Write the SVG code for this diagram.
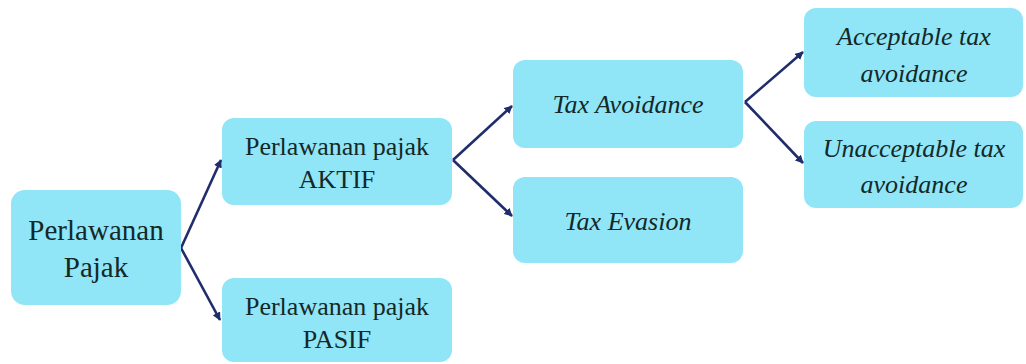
<svg xmlns="http://www.w3.org/2000/svg" width="1026" height="364" viewBox="0 0 1026 364">
<style>
.box{fill:#90E5F6;}
text{font-family:'Liberation Serif','Times New Roman',serif;fill:#142828;text-anchor:middle;font-size:26px;}
.big{font-size:29px;}
.i{font-style:italic;}
.c{stroke:#1f2d6b;stroke-width:2.6;fill:none;marker-end:url(#ah);}
</style>
<defs>
<marker id="ah" viewBox="0 0 10 10" refX="9" refY="5" markerWidth="3.2" markerHeight="3.2" orient="auto" markerUnits="strokeWidth">
<path d="M0,0 L10,5 L0,10 z" fill="#1f2d6b"/>
</marker>
</defs>
<g id="connectors">
<path class="c" d="M181,248 L221,160"/>
<path class="c" d="M181,248 L220,320"/>
<path class="c" d="M453,160 L512,106"/>
<path class="c" d="M453,160 L512,216"/>
<path class="c" d="M745,102 L803,52"/>
<path class="c" d="M745,102 L803,163"/>
</g>
<g id="n-perlawanan">
<rect class="box" x="11" y="190" width="170" height="115" rx="14"/>
<text class="big" x="96" y="240">Perlawanan</text>
<text class="big" x="96" y="277">Pajak</text>
</g>
<g id="n-aktif">
<rect class="box" x="222" y="118" width="230" height="87" rx="12"/>
<text x="337" y="155">Perlawanan pajak</text>
<text x="337" y="188">AKTIF</text>
</g>
<g id="n-pasif">
<rect class="box" x="222" y="278" width="230" height="84" rx="12"/>
<text x="337" y="315">Perlawanan pajak</text>
<text x="337" y="348">PASIF</text>
</g>
<g id="n-avoidance">
<rect class="box" x="513" y="60" width="230" height="88" rx="12"/>
<text class="i" x="628" y="113">Tax Avoidance</text>
</g>
<g id="n-evasion">
<rect class="box" x="513" y="177" width="230" height="86" rx="12"/>
<text class="i" x="628" y="230">Tax Evasion</text>
</g>
<g id="n-acceptable">
<rect class="box" x="804" y="8" width="219" height="89" rx="12"/>
<text class="i" x="914" y="45">Acceptable tax</text>
<text class="i" x="914" y="82">avoidance</text>
</g>
<g id="n-unacceptable">
<rect class="box" x="804" y="121" width="219" height="87" rx="12"/>
<text class="i" x="914" y="157">Unacceptable tax</text>
<text class="i" x="914" y="193">avoidance</text>
</g>
</svg>
